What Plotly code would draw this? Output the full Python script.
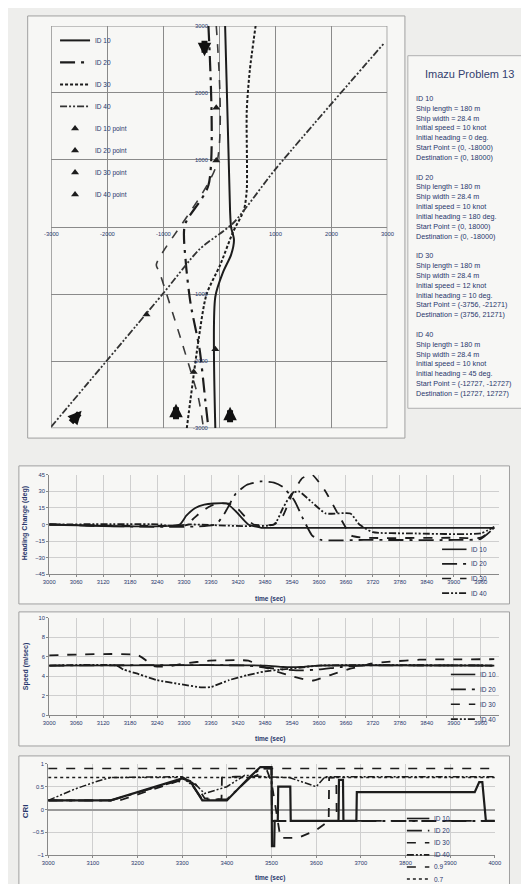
import plotly.graph_objects as go

W, H = 529, 884
def fx(p): return p / W
def fy(p): return 1 - p / H

INK = "#1c1c1c"
NAVY = "#27366b"
GRID1 = "#8a8a8a"
GRID2 = "#cfcfcf"
FONT = "Liberation Sans"

# ---------------- data: trajectories (m) ----------------
ID10_X = [-70, -70, 70, 211, 263, 211, 193, 105]
ID10_Y = [-3000, -1040, -670, -415, -190, 0, 250, 3000]
ID20_X = [-193, -193, -614, -596, -509, -351, -246, -193]
ID20_Y = [3000, 622, 30, -533, -1156, -1822, -2607, -3000]
ID20B_X = [-53, -53, -1123, -1070, -684, -368, -281]
ID20B_Y = [3000, 919, -563, -667, -1674, -2563, -3000]
ID30_X = [-579, -368, -228, 18, 246, 439, 491, 491, 544, 649]
ID30_Y = [-3000, -1674, -1007, -563, -74, 252, 548, 1733, 2326, 3000]
ID40_X = [-3000, -1000, -350, 250, 1000, 2950]
ID40_Y = [-2980, -990, -330, 60, 860, 2750]

PT10_X, PT10_Y = [-70], [-1822]
PT20_X, PT20_Y = [-53, -53], [1778, 993]
PT30_X, PT30_Y = [-456], [-2163]
PT40_X, PT40_Y = [-1298], [-1304]

ARROW_X = [193, -772, -2456, -263]
ARROW_Y = [-2681, -2637, -2741, 2548]
ARROW_DX = [0, 0, -12, 0]
ARROW_DY = [17, 17, 13, -17]

TRAJ_TICKS = [-3000, -2000, -1000, 0, 1000, 2000, 3000]
TRAJ_TICKTEXT = ["-3000", "-2000", "-1000", "", "1000", "2000", "3000"]

# ---------------- data: heading change (deg) ----------------
HDG10_T = [3000, 3290, 3305, 3325, 3345, 3365, 3395, 3415, 3443, 3472, 3500, 3600, 3800, 3990]
HDG10_V = [0, 0, 8, 15, 18, 19, 19, 12, 0, -3, -3, -3, -3, -3]
HDG20_T = [3000, 3370, 3390, 3415, 3440, 3470, 3500, 3520, 3545, 3565, 3585, 3605, 3700, 3900, 3960, 3990]
HDG20_V = [0, 0, 10, 28, 36, 39, 38, 34, 22, 5, -10, -14, -14, -14, -13, -3]
HDG30_T = [3000, 3305, 3320, 3340, 3360, 3380, 3400, 3420, 3440, 3455, 3500, 3520, 3540, 3563, 3585, 3613, 3646, 3672, 3700, 3900, 3960, 3990]
HDG30_V = [0, 0, 5, 12, 17, 19, 19, 14, 5, 0, 0, 8, 27, 42, 45, 31, 7, -10, -12, -12, -12, -3]
HDG40_T = [3000, 3250, 3260, 3300, 3310, 3500, 3520, 3540, 3555, 3585, 3615, 3670, 3690, 3720, 3800, 3960, 3990]
HDG40_V = [0, 0, -1, -1, 0, 0, 15, 28, 30, 20, 10, 10, 0, -7, -8, -8, -2]

# ---------------- data: speed (m/sec) ----------------
SPD10_T = [3000, 3480, 3520, 3560, 3600, 3990]
SPD10_V = [5.1, 5.1, 4.95, 4.95, 5.1, 5.1]
SPD20_T = [3000, 3440, 3480, 3520, 3560, 3600, 3650, 3700, 3990]
SPD20_V = [5.1, 5.1, 4.9, 4.7, 4.6, 4.7, 4.95, 5.1, 5.1]
SPD30_T = [3000, 3198, 3233, 3263, 3298, 3357, 3428, 3443, 3465, 3498, 3540, 3585, 3630, 3672, 3693, 3715, 3759, 3824, 3990]
SPD30_V = [6.15, 6.15, 5.05, 5.0, 5.3, 5.6, 5.65, 5.6, 5.2, 4.6, 4.0, 3.55, 4.2, 4.8, 5.0, 5.3, 5.5, 5.7, 5.75]
SPD40_T = [3000, 3150, 3165, 3200, 3240, 3290, 3340, 3360, 3400, 3440, 3480, 3520, 3560, 3600, 3990]
SPD40_V = [5.1, 5.1, 4.7, 4.2, 3.6, 3.2, 2.85, 2.9, 3.6, 4.1, 4.5, 4.7, 4.9, 5.1, 5.1]

# ---------------- data: CRI ----------------
CRI10_T = [3000, 3140, 3300, 3318, 3345, 3400, 3450, 3475, 3500, 3501, 3506, 3507, 3514, 3515, 3542, 3543,
           3650, 3651, 3660, 3661, 3690, 3691, 3955, 3965, 3972, 3980, 4000]
CRI10_V = [0.2, 0.2, 0.68, 0.62, 0.2, 0.2, 0.7, 0.93, 0.93, -0.8, -0.8, -0.25, -0.25, 0.5, 0.5, -0.25,
           -0.25, 0.65, 0.65, -0.25, -0.25, 0.38, 0.38, 0.6, 0.6, -0.25, -0.25]
CRI20_T = [3000, 3140, 3300, 3318, 3345, 3400, 3450, 3475, 3500, 3501, 3540, 4000]
CRI20_V = [0.2, 0.2, 0.66, 0.6, 0.22, 0.22, 0.68, 0.9, 0.9, -0.25, -0.25, -0.25]
CRI30_T = [3000, 3160, 3290, 3330, 3350, 3388, 3389, 3420, 3460, 3490, 3500, 3520, 3560, 3600, 3628, 3629,
           3645, 3646, 4000]
CRI30_V = [0.2, 0.2, 0.62, 0.55, 0.25, 0.22, 0.7, 0.72, 0.72, 0.85, 0.6, -0.62, -0.62, -0.45, -0.25, 0.7,
           0.7, -0.25, -0.25]
CRI40_T = [3000, 3060, 3110, 3140, 3300, 3330, 3350, 3400, 3440, 3480, 3540, 3600, 3620, 3650, 3700, 4000]
CRI40_V = [0.2, 0.45, 0.62, 0.7, 0.72, 0.55, 0.35, 0.5, 0.75, 0.72, 0.7, 0.5, 0.72, 0.72, 0.72, 0.72]
REF_T = [3000, 4000]
REF_09 = [0.9, 0.9]
REF_07 = [0.7, 0.7]

LEG_LABELS = ["ID 10", "ID 20", "ID 30", "ID 40"]
CRI_LEG_LABELS = ["ID 10", "ID 20", "ID 30", "ID 40", "0.9", "0.7"]

INFO_TITLE = "Imazu Problem 13"
INFO_LINES = [
    "ID 10", "Ship length = 180 m", "Ship width = 28.4 m", "Initial speed = 10 knot",
    "Initial heading = 0 deg.", "Start Point = (0, -18000)", "Destination = (0, 18000)", "",
    "ID 20", "Ship length = 180 m", "Ship width = 28.4 m", "Initial speed = 10 knot",
    "Initial heading = 180 deg.", "Start Point = (0, 18000)", "Destination = (0, -18000)", "",
    "ID 30", "Ship length = 180 m", "Ship width = 28.4 m", "Initial speed = 12 knot",
    "Initial heading = 10 deg.", "Start Point = (-3756, -21271)", "Destination = (3756, 21271)", "",
    "ID 40", "Ship length = 180 m", "Ship width = 28.4 m", "Initial speed = 10 knot",
    "Initial heading = 45 deg.", "Start Point = (-12727, -12727)", "Destination = (12727, 12727)",
]

DASH10 = "solid"
DASH20 = "longdashdot"
DASH30 = "dash"
DASH40 = "7px,2px,2px,2px,2px,2px"
STYLES = [DASH10, DASH20, DASH30, DASH40]

fig = go.Figure()

# ---------- panel 1 : trajectories ----------
def traj(x, y, name, dash, width, show=True, color=INK):
    fig.add_trace(go.Scatter(x=x, y=y, mode="lines", name=name, legendgroup=name + ("" if show else "_b"),
                             showlegend=show, line=dict(color=color, width=width, dash=dash, shape="spline", smoothing=0.7),
                             xaxis="x", yaxis="y"))

traj(ID10_X, ID10_Y, "ID 10", "solid", 2.0)
traj(ID20_X, ID20_Y, "ID 20", DASH20, 2.2)
traj(ID20B_X, ID20B_Y, "ID 20", "dash", 1.6, show=False, color="#3a3a3a")
traj(ID30_X, ID30_Y, "ID 30", "3px,2px", 2.0)
traj(ID40_X, ID40_Y, "ID 40", DASH40, 1.8, color="#333")

for px_, py_, nm in [(PT10_X, PT10_Y, "ID 10 point"), (PT20_X, PT20_Y, "ID 20 point"),
                     (PT30_X, PT30_Y, "ID 30 point"), (PT40_X, PT40_Y, "ID 40 point")]:
    fig.add_trace(go.Scatter(x=px_, y=py_, mode="markers", name=nm, legendgroup=nm,
                             marker=dict(symbol="triangle-up", size=7, color=INK),
                             xaxis="x", yaxis="y"))

annotations = []
shapes = []

for ax_, ay_, dx, dy in zip(ARROW_X, ARROW_Y, ARROW_DX, ARROW_DY):
    annotations.append(dict(x=ax_, y=ay_, xref="x", yref="y", ax=dx, ay=dy, text="", showarrow=True,
                            arrowhead=2, arrowsize=0.45, arrowwidth=6, arrowcolor="#111", standoff=0))

tick_font = dict(size=5.8, color=NAVY, family=FONT)

# tick labels of the trajectory chart sit on the crossing axes (x = 0, y = 0)
for v, s in zip(TRAJ_TICKS, TRAJ_TICKTEXT):
    if s:
        annotations.append(dict(x=v, y=fy(225), xref="x", yref="paper", text=s, showarrow=False,
                                xanchor="center", yanchor="middle", font=tick_font))
        annotations.append(dict(x=fx(201), y=v, xref="paper", yref="y", text=s, showarrow=False,
                                xanchor="right", yanchor="middle", font=tick_font))

# ---------- panels 2-4 ----------
def series(t, v, dash, ax, width=1.8, color=INK):
    fig.add_trace(go.Scatter(x=t, y=v, mode="lines", showlegend=False,
                             line=dict(color=color, width=width, dash=dash, shape="spline", smoothing=0.5),
                             xaxis="x" + ax, yaxis="y" + ax))

def series_lin(t, v, dash, ax, width=1.8, color=INK):
    fig.add_trace(go.Scatter(x=t, y=v, mode="lines", showlegend=False,
                             line=dict(color=color, width=width, dash=dash),
                             xaxis="x" + ax, yaxis="y" + ax))

for t, v, d in [(HDG40_T, HDG40_V, DASH40), (HDG20_T, HDG20_V, DASH20), (HDG30_T, HDG30_V, DASH30), (HDG10_T, HDG10_V, DASH10)]:
    series(t, v, d, "2")
for t, v, d in [(SPD40_T, SPD40_V, DASH40), (SPD20_T, SPD20_V, DASH20), (SPD30_T, SPD30_V, DASH30), (SPD10_T, SPD10_V, DASH10)]:
    series(t, v, d, "3")
series_lin(REF_T, REF_09, "dash", "4", 1.6)
series_lin(REF_T, REF_07, "dot", "4", 1.6)
for t, v, d, wd in [(CRI40_T, CRI40_V, DASH40, 1.5), (CRI20_T, CRI20_V, DASH20, 2.0), (CRI30_T, CRI30_V, DASH30, 1.8), (CRI10_T, CRI10_V, DASH10, 2.2)]:
    series_lin(t, v, d, "4", wd)

# ---------- boxes ----------
def box(x0, y0, x1, y1, color="#a0a0a0", fill="#f7f7f5", width=1):
    shapes.append(dict(type="rect", xref="paper", yref="paper", x0=fx(x0), x1=fx(x1), y0=fy(y1), y1=fy(y0),
                       line=dict(color=color, width=width), fillcolor=fill, layer="below"))

box(14, 5, 400, 430)
box(403, 45, 528, 400, color="#b0b0b0")
box(5, 458, 507, 597)
box(5, 605, 507, 740)
box(5, 750, 507, 883)
shapes.append(dict(type="rect", xref="x", yref="y", x0=-3000, x1=3000, y0=-3000, y1=3000,
                   line=dict(color=GRID1, width=1.4), layer="below"))

# ---------- manual legends ----------
def leg(x0, x1, y, dash, text, width=1.6):
    shapes.append(dict(type="line", xref="paper", yref="paper", x0=fx(x0), x1=fx(x1), y0=fy(y), y1=fy(y),
                       line=dict(color=INK, width=width, dash=dash)))
    annotations.append(dict(xref="paper", yref="paper", x=fx(x1 + 3), y=fy(y), text=text, showarrow=False,
                            xanchor="left", yanchor="middle", font=dict(size=6.5, color=NAVY, family=FONT)))

for i, (lab, d) in enumerate(zip(LEG_LABELS, STYLES)):
    leg(438, 463, 542 + i * 14.7, d, lab)
for i, (lab, d) in enumerate(zip(LEG_LABELS, STYLES)):
    leg(447, 472, 668 + i * 15, d, lab)
for i, (lab, d) in enumerate(zip(CRI_LEG_LABELS, STYLES + ["dash", "dot"])):
    leg(402, 425, 813 + i * 12.2, d, lab)

# ---------- axis titles & texts ----------
def text(x, y, s, size=5.5, angle=0, color=NAVY, anchor="center", bold=False):
    annotations.append(dict(xref="paper", yref="paper", x=fx(x), y=fy(y), text=("<b>%s</b>" % s) if bold else s,
                            showarrow=False, xanchor=anchor, yanchor="middle", textangle=angle,
                            font=dict(size=size, color=color, family=FONT)))

text(12, 516, "Heading Change (deg)", size=7, angle=-90, bold=True)
text(12, 660, "Speed (m/sec)", size=7, angle=-90, bold=True)
text(12, 806, "CRI", size=8, angle=-90, bold=True)
text(262, 592, "time (sec)", size=6.5, bold=True)
text(262, 733, "time (sec)", size=6.5, bold=True)
text(262, 873, "time (sec)", size=6.5, bold=True)

text(466, 63, INFO_TITLE, size=11, color="#33416f")
for i, line in enumerate(INFO_LINES):
    if line:
        text(409, 88 + i * 9.9, line, size=7.2, anchor="left")

common = dict(showgrid=True, gridcolor=GRID2, zeroline=False, showline=True, linecolor="#888",
              ticks="outside", ticklen=2, tickcolor="#888", tickfont=tick_font)

fig.update_layout(
    width=W, height=H, margin=dict(l=0, r=0, t=0, b=0),
    paper_bgcolor="#eeeeec", plot_bgcolor="rgba(0,0,0,0)",
    font=dict(family=FONT, color=NAVY),
    shapes=shapes, annotations=annotations,
    legend=dict(x=fx(42), y=fy(15), xanchor="left", yanchor="top", bgcolor="rgba(0,0,0,0)",
                font=dict(size=6.5, color=NAVY, family=FONT), tracegroupgap=3, itemwidth=30),
    xaxis=dict(domain=[fx(38), fx(382)], range=[-3000, 3000], tickvals=TRAJ_TICKS, showticklabels=False,
               showgrid=True, gridcolor=GRID1, gridwidth=1.4, zeroline=False, showline=False, ticks=""),
    yaxis=dict(domain=[fy(420), fy(15)], range=[-3000, 3000], tickvals=TRAJ_TICKS, showticklabels=False,
               showgrid=True, gridcolor=GRID1, gridwidth=1.4, zeroline=False, showline=False, ticks=""),
    xaxis2=dict(domain=[fx(36), fx(496)], range=[3000, 4000], anchor="y2", tick0=3000, dtick=60, **common),
    yaxis2=dict(domain=[fy(567), fy(467)], range=[-45, 45], anchor="x2", tick0=-45, dtick=15, **common),
    xaxis3=dict(domain=[fx(36), fx(496)], range=[3000, 4000], anchor="y3", tick0=3000, dtick=60, **common),
    yaxis3=dict(domain=[fy(709), fy(611)], range=[0, 10], anchor="x3", dtick=2, **common),
    xaxis4=dict(domain=[fx(35), fx(492)], range=[3000, 4000], anchor="y4", dtick=100, **common),
    yaxis4=dict(domain=[fy(850), fy(758)], range=[-1, 1], anchor="x4", dtick=0.5, **common),
)
fig.update_yaxes(selector=dict(anchor="x4"), zeroline=True, zerolinecolor="#999")

fig.write_html("out.html")
